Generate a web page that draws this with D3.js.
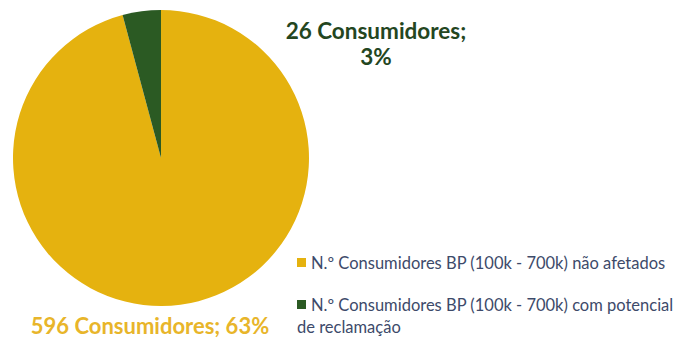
<!DOCTYPE html>
<html>
<head>
<meta charset="utf-8">
<script src="https://cdn.jsdelivr.net/npm/d3@7"></script>
<style>
  html, body { margin: 0; padding: 0; background: #ffffff; }
  svg { display: block; }
</style>
</head>
<body>
<svg id="chart" width="682" height="339"></svg>
<script>
// Consumer groups and counts
const categories = [
  "N.º Consumidores BP (100k - 700k) não afetados",
  "N.º Consumidores BP (100k - 700k) com potencial de reclamação"
];
const legendLines = [
  ["N.º Consumidores BP (100k - 700k) não afetados"],
  ["N.º Consumidores BP (100k - 700k) com potencial", "de reclamação"]
];
const values = [596, 26];
const percentLabels = ["63%", "3%"];
const colors = ["#e5b20f", "#2b5a23"];
const labelColors = ["#e8b52a", "#24461f"];

const svg = d3.select("#chart");
const cx = 161, cy = 158, r = 148;

const pie = d3.pie().sort(null).value(d => d)
  .startAngle(0).endAngle(2 * Math.PI);
const arcs = pie(values);
const arc = d3.arc().innerRadius(0).outerRadius(r);

const g = svg.append("g").attr("transform", `translate(${cx},${cy})`);
g.selectAll("path")
  .data(arcs)
  .join("path")
  .attr("d", arc)
  .attr("fill", (d, i) => colors[i]);

// Data labels
const font = "Lato, 'Open Sans', sans-serif";
svg.append("text")
  .attr("x", 150).attr("y", 334)
  .attr("text-anchor", "middle")
  .attr("font-family", font).attr("font-weight", 700).attr("font-size", 22)
  .attr("fill", labelColors[0])
  .text(`${values[0]} Consumidores; ${percentLabels[0]}`);

const lbl = svg.append("text")
  .attr("text-anchor", "middle")
  .attr("font-family", font).attr("font-weight", 700).attr("font-size", 22.5)
  .attr("fill", labelColors[1]);
lbl.append("tspan").attr("x", 376).attr("y", 39).text(`${values[1]} Consumidores;`);
lbl.append("tspan").attr("x", 376).attr("y", 65).text(percentLabels[1]);

// Legend
const legendY = [263, 305];
const lg = svg.append("g");
legendLines.forEach((lines, i) => {
  lg.append("rect")
    .attr("x", 297).attr("y", legendY[i] - 5)
    .attr("width", 9).attr("height", 9)
    .attr("fill", colors[i]);
  const t = lg.append("text")
    .attr("font-family", font).attr("font-size", 16.5)
    .attr("fill", "#3d4a6a");
  lines.forEach((line, j) => {
    t.append("tspan")
      .attr("x", j === 0 ? 311 : 297)
      .attr("y", legendY[i] + 6 + j * 22)
      .text(line);
  });
});
</script>
</body>
</html>
